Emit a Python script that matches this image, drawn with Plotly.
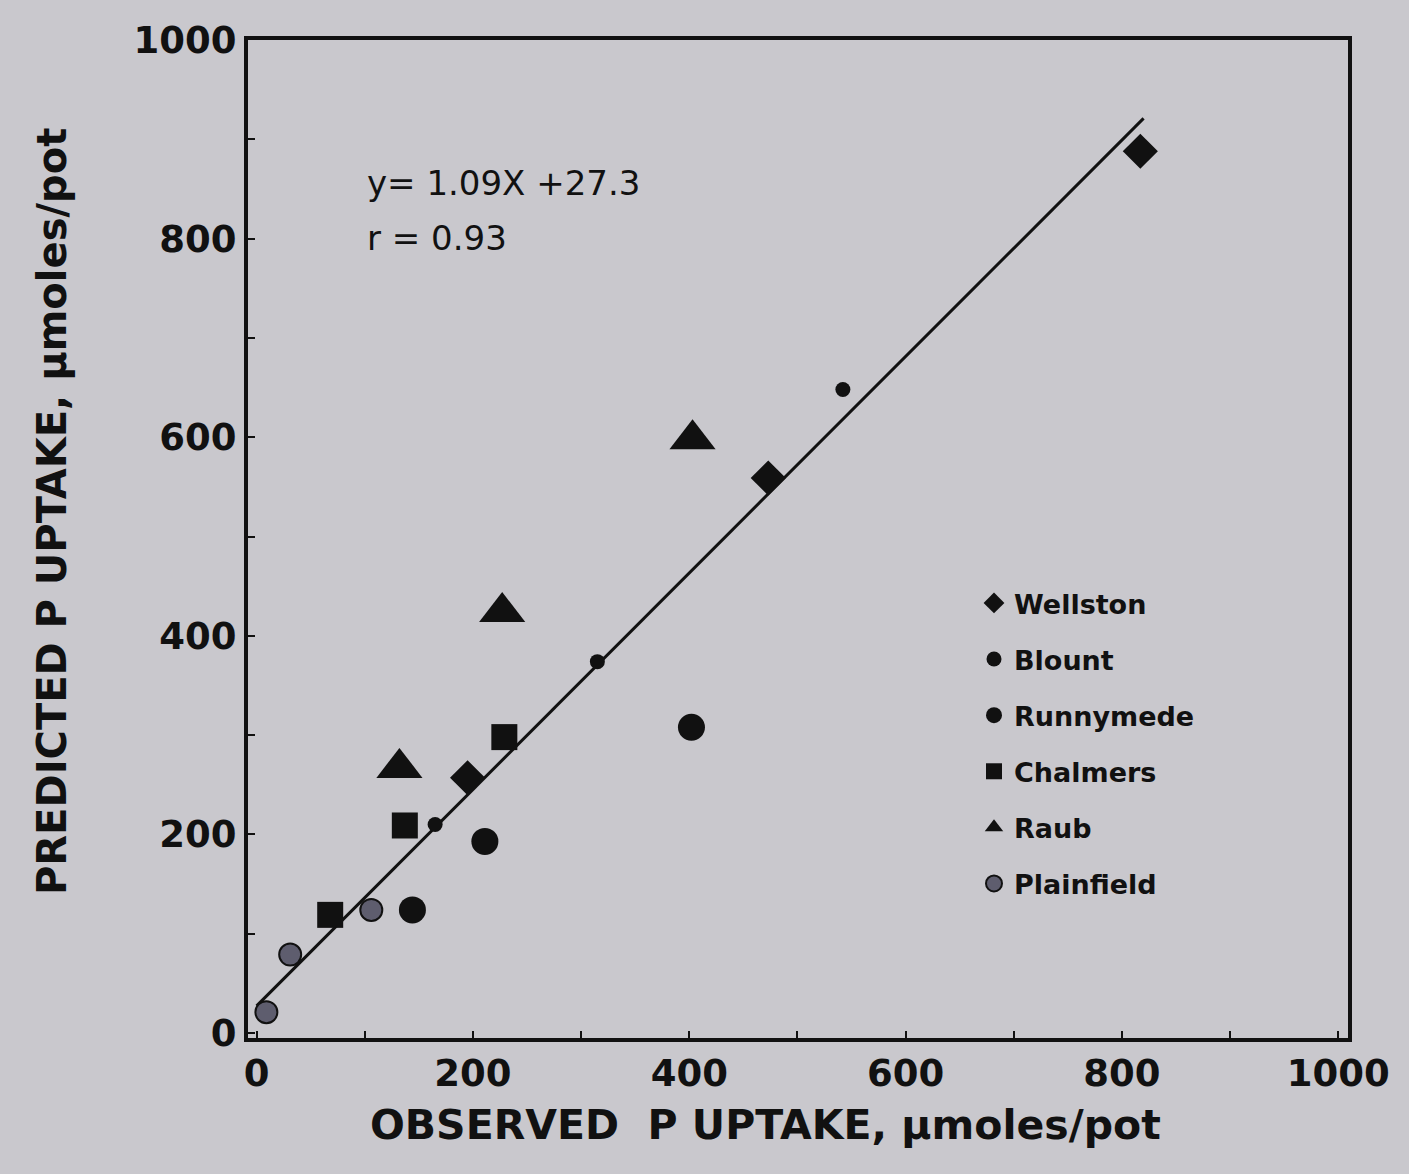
import plotly.graph_objects as go

# ---- data ----
soils = ["Wellston", "Blount", "Runnymede", "Chalmers", "Raub", "Plainfield"]
wellston_x = [817, 473, 195]
wellston_y = [888, 559, 257]
blount_x = [542, 315, 165]
blount_y = [648, 374, 210]
runnymede_x = [402, 211, 144]
runnymede_y = [308, 193, 124]
chalmers_x = [229, 137, 68]
chalmers_y = [298, 209, 119]
raub_x = [403, 227, 132]
raub_y = [598, 424, 267]
plainfield_x = [106, 31, 9]
plainfield_y = [124, 79, 21]

slope = 1.09
intercept = 27.3
fit_x = [0, 820]

tick_vals = [0, 100, 200, 300, 400, 500, 600, 700, 800, 900, 1000]
tick_text = ["0", "", "200", "", "400", "", "600", "", "800", "", "1000"]

x_title = "OBSERVED  P UPTAKE, µmoles/pot"
y_title = "PREDICTED P UPTAKE, µmoles/pot"
fit_label = "y= 1.09X +27.3"
r_label = "r = 0.93"

BG = "#c9c8cd"
INK = "#111111"

series = [
    ("Wellston", wellston_x, wellston_y, "diamond", 27, INK),
    ("Blount", blount_x, blount_y, "circle", 15, INK),
    ("Runnymede", runnymede_x, runnymede_y, "circle", 27, INK),
    ("Chalmers", chalmers_x, chalmers_y, "square", 26, INK),
    ("Raub", raub_x, raub_y, "triangle-up", 40, INK),
    ("Plainfield", plainfield_x, plainfield_y, "circle", 22, "#5e5d6e"),
]

W, H = 1409, 1174
plot_left, plot_top = 248, 40
plot_w, plot_h = W - 248 - 61, H - 40 - 136


def px_to_paper(px, py):
    return (px - plot_left) / plot_w, (plot_top + plot_h - py) / plot_h


fig = go.Figure()

fig.add_trace(go.Scatter(
    x=fit_x, y=[slope * v + intercept for v in fit_x],
    mode="lines", line=dict(color=INK, width=3), showlegend=False,
    hoverinfo="skip"))

for i, (name, xs, ys, sym, size, col) in enumerate(series):
    fig.add_trace(go.Scatter(
        x=xs, y=ys, mode="markers", name=name, legendgroup=f"g{i}",
        marker=dict(symbol=sym, size=size, color=col,
                    line=dict(color=INK, width=2 if col != INK else 0))))

ax, ay = px_to_paper(365, 183)
fig.add_annotation(x=ax, y=ay, xref="paper", yref="paper",
                   text=fit_label, showarrow=False, xanchor="left",
                   yanchor="middle",
                   font=dict(family="DejaVu Sans", size=34, color=INK))
ax, ay = px_to_paper(365, 238)
fig.add_annotation(x=ax, y=ay, xref="paper", yref="paper",
                   text=r_label, showarrow=False, xanchor="left",
                   yanchor="middle",
                   font=dict(family="DejaVu Sans", size=34, color=INK))

ax, ay = px_to_paper(52, 512)
fig.add_annotation(x=ax, y=ay, xref="paper", yref="paper",
                   text=y_title, showarrow=False, textangle=-90,
                   xanchor="center", yanchor="middle",
                   font=dict(family="DejaVu Sans", size=40, color=INK,
                             weight="bold"))
ax, ay = px_to_paper(765, 1125)
fig.add_annotation(x=ax, y=ay, xref="paper", yref="paper",
                   text=x_title, showarrow=False,
                   xanchor="center", yanchor="middle",
                   font=dict(family="DejaVu Sans", size=41, color=INK,
                             weight="bold"))

axis_common = dict(
    tickvals=tick_vals, ticktext=tick_text, ticks="inside", ticklen=7,
    tickwidth=2, tickcolor=INK, showgrid=False, zeroline=False,
    showline=True, linecolor=INK, linewidth=4, mirror=True,
    tickfont=dict(family="DejaVu Sans", size=37, color=INK, weight="bold"),
)

fig.update_layout(
    width=W, height=H,
    margin=dict(l=248, r=61, t=40, b=136),
    paper_bgcolor=BG, plot_bgcolor=BG,
    xaxis=dict(range=[-8, 1009], **axis_common),
    yaxis=dict(range=[-5, 1000], **axis_common),
    legend=dict(x=0.66, y=0.46, xanchor="left", yanchor="top",
                bgcolor="rgba(0,0,0,0)", tracegroupgap=18,
                font=dict(family="DejaVu Sans", size=27, color=INK,
                          weight="bold"),
                itemwidth=30),
    showlegend=True,
)

fig.write_html("out.html")
